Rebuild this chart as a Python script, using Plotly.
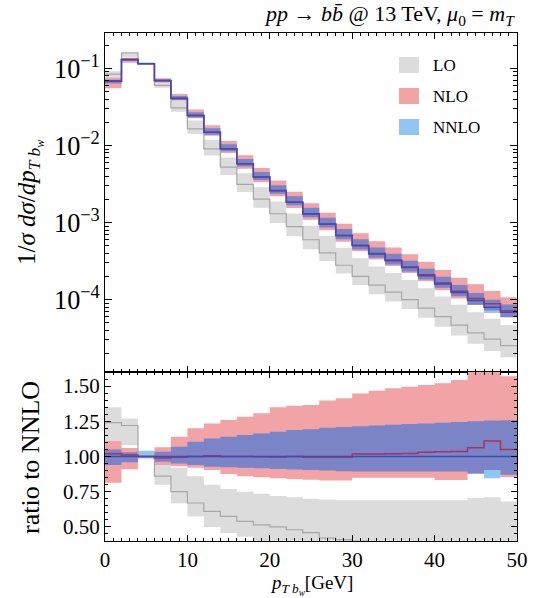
import plotly.graph_objects as go

# ---- data: normalised b-jet pT distribution, 2 GeV bins from 0 to 50 GeV ----
bin_edges = [0, 2, 4, 6, 8, 10, 12, 14, 16, 18, 20, 22, 24, 26, 28, 30,
             32, 34, 36, 38, 40, 42, 44, 46, 48, 50]

# NNLO central prediction, 1/sigma dsigma/dpT [1/GeV]
nnlo_central = [0.068, 0.130, 0.115, 0.070, 0.041, 0.0245, 0.0148, 0.0091,
                0.0058, 0.0039, 0.0026, 0.00184, 0.0013, 0.00096, 0.00068,
                0.0005, 0.00039, 0.00032, 0.00026, 0.000204, 0.000159,
                0.000124, 0.0000973, 0.0000795, 0.0000684]

# ratios to the NNLO central value
lo_ratio = [1.24, 1.22, 1.00, 0.86, 0.75, 0.67, 0.61, 0.575, 0.54, 0.515,
            0.50, 0.48, 0.46, 0.42, 0.41, 0.40, 0.395, 0.39, 0.385, 0.38,
            0.378, 0.375, 0.38, 0.385, 0.37]
lo_ratio_up = [1.35, 1.27, 1.03, 0.98, 0.92, 0.86, 0.80, 0.77, 0.75, 0.735,
               0.72, 0.71, 0.70, 0.695, 0.69, 0.69, 0.69, 0.69, 0.69, 0.69,
               0.69, 0.69, 0.705, 0.71, 0.68]
lo_ratio_dn = [1.08, 1.08, 0.98, 0.80, 0.668, 0.574, 0.50, 0.456, 0.43, 0.40,
               0.38, 0.36, 0.345, 0.33, 0.32, 0.31, 0.30, 0.295, 0.29, 0.285,
               0.28, 0.275, 0.275, 0.27, 0.26]

nlo_ratio = [1.02, 1.01, 1.0, 0.99, 0.995, 1.0, 1.005, 1.0, 1.0, 0.998,
             0.997, 1.0, 0.995, 0.994, 0.995, 1.018, 1.018, 1.02, 1.022,
             1.03, 1.034, 1.036, 1.062, 1.11, 1.05]
nlo_ratio_up = [1.11, 1.06, 1.005, 1.065, 1.14, 1.20, 1.235, 1.26, 1.283,
                1.307, 1.35, 1.36, 1.366, 1.397, 1.413, 1.448, 1.467, 1.484,
                1.496, 1.508, 1.52, 1.543, 1.62, 1.62, 1.57]
nlo_ratio_dn = [0.814, 0.91, 0.995, 0.94, 0.93, 0.92, 0.904, 0.876, 0.86,
                0.852, 0.845, 0.838, 0.835, 0.83, 0.83, 0.85, 0.85, 0.85,
                0.85, 0.85, 0.833, 0.833, 0.88, 0.905, 0.855]

nnlo_ratio_up = [1.05, 1.03, 1.04, 1.034, 1.07, 1.105, 1.128, 1.14, 1.152,
                 1.164, 1.176, 1.188, 1.193, 1.205, 1.21, 1.215, 1.22, 1.225,
                 1.23, 1.235, 1.24, 1.245, 1.25, 1.255, 1.258]
nnlo_ratio_dn = [0.94, 0.96, 0.99, 0.963, 0.95, 0.94, 0.928, 0.923, 0.92,
                 0.916, 0.912, 0.908, 0.904, 0.90, 0.895, 0.893, 0.893, 0.893,
                 0.893, 0.893, 0.893, 0.893, 0.88, 0.845, 0.87]

legend_labels = ["LO", "NLO", "NNLO"]

# ---- style ----
FONT = "Liberation Serif"
C_LO_BAND = "#dcdcdc"
C_LO_LINE = "#a6a6a6"
C_NLO_BAND = "#f1a3a6"
C_NLO_LINE = "#a8325e"
C_NNLO_BAND = "#92c5f2"
C_OVERLAP = "#7b84c6"
C_NNLO_LINE = "#3d4db5"

W, H = 539, 598
ML, MR, MT, MB = 105, 22, 33, 57


def steps(vals):
    return list(vals) + [vals[-1]]


def scaled(ratio):
    return [c * r for c, r in zip(nnlo_central, ratio)]


ones = [1.0] * len(nnlo_central)
ov_dn = [max(a, b) for a, b in zip(nlo_ratio_dn, nnlo_ratio_dn)]
ov_up = [max(min(a, b), lo) for a, b, lo in zip(nlo_ratio_up, nnlo_ratio_up, ov_dn)]

fig = go.Figure()


def add_band(lo, hi, color, xa, ya):
    fig.add_trace(go.Scatter(x=bin_edges, y=steps(lo), mode="lines",
                             line=dict(width=0, shape="hv"), hoverinfo="skip",
                             showlegend=False, xaxis=xa, yaxis=ya))
    fig.add_trace(go.Scatter(x=bin_edges, y=steps(hi), mode="lines",
                             line=dict(width=0, shape="hv"), fill="tonexty",
                             fillcolor=color, hoverinfo="skip",
                             showlegend=False, xaxis=xa, yaxis=ya))


def add_line(vals, color, width, xa, ya):
    fig.add_trace(go.Scatter(x=bin_edges, y=steps(vals), mode="lines",
                             line=dict(width=width, shape="hv", color=color),
                             hoverinfo="skip", showlegend=False,
                             xaxis=xa, yaxis=ya))


# one set of bands per panel: absolute (upper) and ratio (lower)
for xa, ya, tf in (("x", "y", scaled), ("x2", "y2", lambda r: list(r))):
    add_band(tf(lo_ratio_dn), tf(lo_ratio_up), C_LO_BAND, xa, ya)
    add_band(tf(nnlo_ratio_dn), tf(nnlo_ratio_up), C_NNLO_BAND, xa, ya)
    add_band(tf(nlo_ratio_dn), tf(nlo_ratio_up), C_NLO_BAND, xa, ya)
    add_band(tf(ov_dn), tf(ov_up), C_OVERLAP, xa, ya)
    add_line(tf(lo_ratio), C_LO_LINE, 1.2, xa, ya)
    add_line(tf(nlo_ratio), C_NLO_LINE, 1.5, xa, ya)
    add_line(tf(ones), C_NNLO_LINE, 1.5, xa, ya)

axis_common = dict(showline=True, linecolor="black", linewidth=1,
                   mirror="allticks", ticks="inside", tickcolor="black",
                   showgrid=False, zeroline=False,
                   tickfont=dict(family=FONT, size=21, color="black"))

split = 169 / 508

fig.update_layout(
    width=W, height=H,
    margin=dict(l=ML, r=MR, t=MT, b=MB),
    plot_bgcolor="white", paper_bgcolor="white",
    showlegend=False,
    xaxis=dict(domain=[0, 1], anchor="y", range=[0, 50], dtick=10, tick0=0,
               ticklen=6, showticklabels=False,
               minor=dict(dtick=1, ticks="inside", ticklen=3, tickcolor="black"),
               **axis_common),
    yaxis=dict(domain=[split, 1], anchor="x", type="log",
               range=[-4.94, -0.54], dtick=1, exponentformat="power",
               ticklen=7,
               minor=dict(dtick="D1", ticks="inside", ticklen=4, tickcolor="black"),
               **axis_common),
    xaxis2=dict(domain=[0, 1], anchor="y2", range=[0, 50], dtick=10, tick0=0,
                ticklen=6, matches="x",
                minor=dict(dtick=1, ticks="inside", ticklen=3, tickcolor="black"),
                **axis_common),
    yaxis2=dict(domain=[0, split], anchor="x2", range=[0.4, 1.6],
                tick0=0.5, dtick=0.25, tickformat=".2f", ticklen=6,
                minor=dict(dtick=0.05, ticks="inside", ticklen=3, tickcolor="black"),
                **axis_common),
)


def px_x(px):
    return (px - ML) / (W - ML - MR)


def px_y(py):
    return (H - MB - py) / (H - MT - MB)


# title in the upper right corner
fig.add_annotation(
    text="<i>pp</i> → <i>b</i><i>b\u0304</i> @ 13 TeV, <i>μ</i><sub>0</sub> = <i>m</i><sub><i>T</i></sub>",
    xref="paper", yref="paper", x=1.0, y=px_y(15), xanchor="right",
    yanchor="middle", showarrow=False,
    font=dict(family=FONT, size=22, color="black"))

# axis titles
fig.add_annotation(
    text="1/<i>σ dσ</i>/<i>dp</i><sub><i>T b</i><sub><i>w</i></sub></sub>",
    xref="paper", yref="paper", x=px_x(30), y=px_y(202), textangle=-90,
    xanchor="center", yanchor="middle", showarrow=False,
    font=dict(family=FONT, size=25, color="black"))
fig.add_annotation(
    text="ratio to NNLO",
    xref="paper", yref="paper", x=px_x(30), y=px_y(458), textangle=-90,
    xanchor="center", yanchor="middle", showarrow=False,
    font=dict(family=FONT, size=26, color="black"))
fig.add_annotation(
    text="<i>p</i><sub><i>T b</i><sub><i>w</i></sub></sub>[GeV]",
    xref="paper", yref="paper", x=px_x(311), y=px_y(585),
    xanchor="center", yanchor="middle", showarrow=False,
    font=dict(family=FONT, size=19, color="black"))

# legend: coloured patches with labels
legend_colors = [C_LO_BAND, C_NLO_BAND, C_NNLO_BAND]
legend_rows = [65, 96, 127]
for label, color, row in zip(legend_labels, legend_colors, legend_rows):
    fig.add_shape(type="rect", xref="paper", yref="paper",
                  x0=px_x(399), x1=px_x(419), y0=px_y(row + 8), y1=px_y(row - 8),
                  fillcolor=color, line=dict(width=0))
    fig.add_annotation(text=label, xref="paper", yref="paper",
                       x=px_x(431), y=px_y(row), xanchor="left", yanchor="middle",
                       showarrow=False,
                       font=dict(family=FONT, size=17, color="black"))

fig.write_html("out.html")
